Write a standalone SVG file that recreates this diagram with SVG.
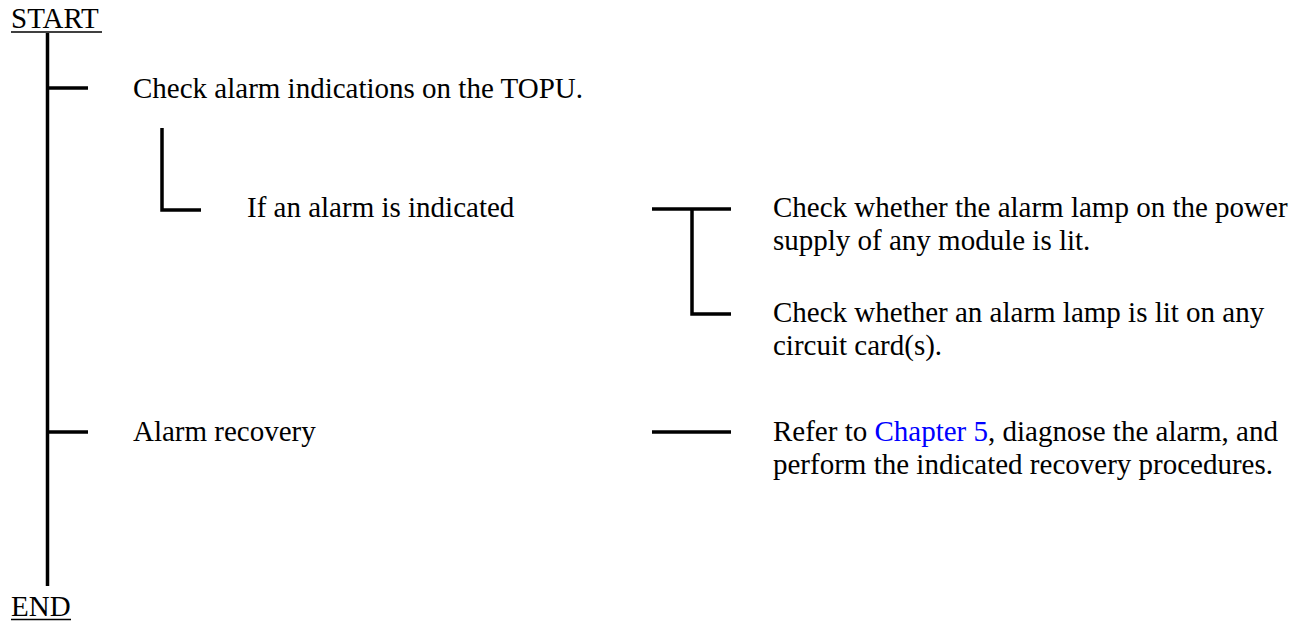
<svg xmlns="http://www.w3.org/2000/svg" width="1310" height="624" viewBox="0 0 1310 624">
<style>
text{font-family:"Liberation Serif","Times New Roman",serif;font-size:29px;fill:#000}
.lnk{fill:#0000ff}
.c{stroke:#000;stroke-width:3.5;fill:none;stroke-linecap:butt}
.u{stroke:#000;stroke-width:1.6}
</style>
<rect width="1310" height="624" fill="#fff"/>
<g id="connectors">
<line class="c" x1="47.5" y1="33" x2="47.5" y2="586"/>
<line class="c" x1="47.5" y1="88" x2="88" y2="88"/>
<polyline class="c" points="162,128 162,210 201,210"/>
<line class="c" x1="652" y1="209" x2="731" y2="209"/>
<polyline class="c" points="692,209 692,314 731,314"/>
<line class="c" x1="47.5" y1="432" x2="88" y2="432"/>
<line class="c" x1="652" y1="432" x2="731" y2="432"/>
</g>
<g id="start">
<text x="11" y="28">START</text>
<line class="u" x1="11" y1="32" x2="102" y2="32"/>
</g>
<g id="check-topu"><text x="133" y="98">Check alarm indications on the TOPU.</text></g>
<g id="if-alarm"><text x="247" y="217">If an alarm is indicated</text></g>
<g id="check-power"><text x="773" y="217">Check whether the alarm lamp on the power</text><text x="773" y="250">supply of any module is lit.</text></g>
<g id="check-card"><text x="773" y="322">Check whether an alarm lamp is lit on any</text><text x="773" y="355">circuit card(s).</text></g>
<g id="alarm-recovery"><text x="133" y="441">Alarm recovery</text></g>
<g id="refer"><text x="773" y="441">Refer to <tspan class="lnk">Chapter 5</tspan>, diagnose the alarm, and</text><text x="773" y="474">perform the indicated recovery procedures.</text></g>
<g id="end">
<text x="11" y="616">END</text>
<line class="u" x1="11" y1="619.5" x2="71" y2="619.5"/>
</g>
</svg>
